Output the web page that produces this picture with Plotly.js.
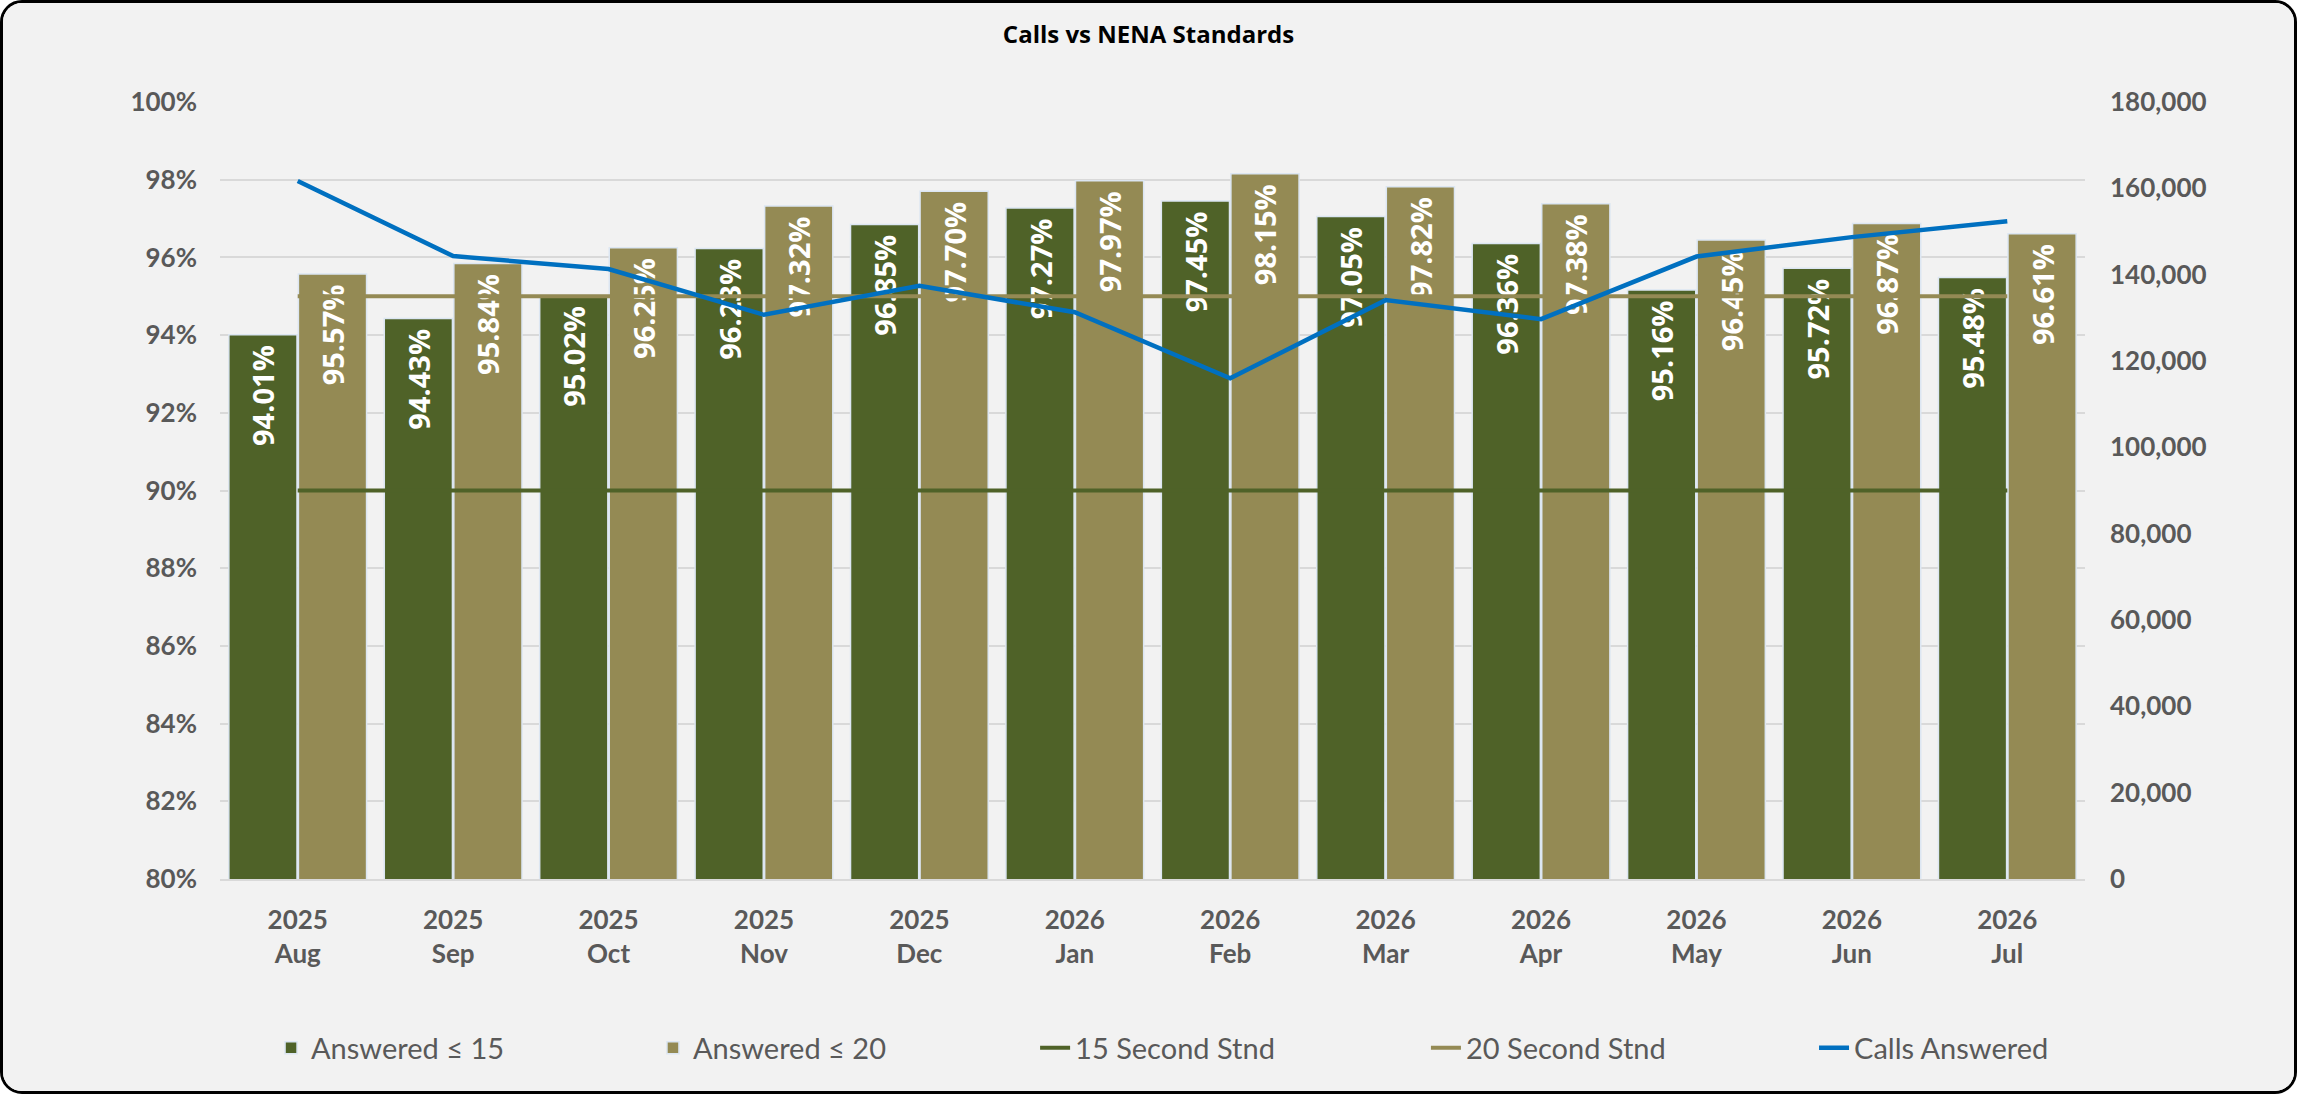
<!DOCTYPE html>
<html>
<head>
<meta charset="utf-8">
<script src="https://cdn.plot.ly/plotly-3.0.1.min.js"></script>
<style>
  body { margin: 0; background: #ffffff; }
  #wrap {
    width: 2297px; height: 1094px; box-sizing: border-box;
    border: 3px solid #000; border-radius: 22px; overflow: hidden;
    background: #f2f2f2;
  }
  #myDiv { width: 2291px; height: 1088px; }
</style>
</head>
<body>
<div id="wrap"><div id="myDiv"></div></div>
<script>
var months = ['2025<br>Aug', '2025<br>Sep', '2025<br>Oct', '2025<br>Nov', '2025<br>Dec', '2026<br>Jan',
              '2026<br>Feb', '2026<br>Mar', '2026<br>Apr', '2026<br>May', '2026<br>Jun', '2026<br>Jul'];

// percent answered within 15 / 20 seconds
var answered15 = [94.01, 94.43, 95.02, 96.23, 96.85, 97.27, 97.45, 97.05, 96.36, 95.16, 95.72, 95.48];
var answered20 = [95.57, 95.84, 96.25, 97.32, 97.70, 97.97, 98.15, 97.82, 97.38, 96.45, 96.87, 96.61];

// NENA standards
var stnd15 = [90, 90, 90, 90, 90, 90, 90, 90, 90, 90, 90, 90];
var stnd20 = [95, 95, 95, 95, 95, 95, 95, 95, 95, 95, 95, 95];

// total calls answered (right axis)
var callsAnswered = [161700, 144300, 141300, 130700, 137400, 131300, 116000, 134100, 129700, 144200, 148700, 152400];

var labelFont = {family: 'Open Sans', size: 29, color: '#ffffff', weight: 'bold'};

var data = [
  {
    x: months, y: answered15, name: 'Answered ≤ 15', type: 'bar', legend: 'legend',
    marker: {color: '#4f6228', line: {color: '#dce6f2', width: 1.5}},
    texttemplate: '%{y:.2f}%\u00a0', textposition: 'inside', insidetextanchor: 'end',
    textangle: -90, textfont: labelFont, insidetextfont: labelFont,
    hoverinfo: 'x+y'
  },
  {
    x: months, y: answered20, name: 'Answered ≤ 20', type: 'bar', legend: 'legend2',
    marker: {color: '#948a54', line: {color: '#dce6f2', width: 1.5}},
    texttemplate: '%{y:.2f}%\u00a0', textposition: 'inside', insidetextanchor: 'end',
    textangle: -90, textfont: labelFont, insidetextfont: labelFont,
    hoverinfo: 'x+y'
  },
  {
    x: months, y: stnd15, name: '15 Second Stnd', type: 'scatter', mode: 'lines', legend: 'legend3',
    line: {color: '#4f6228', width: 4}
  },
  {
    x: months, y: stnd20, name: '20 Second Stnd', type: 'scatter', mode: 'lines', legend: 'legend4',
    line: {color: '#948a54', width: 4}
  },
  {
    x: months, y: callsAnswered, name: 'Calls Answered', type: 'scatter', mode: 'lines', legend: 'legend5',
    yaxis: 'y2', line: {color: '#0070c0', width: 4.5}
  }
];

var tickFont = {family: 'Lato', size: 26, color: '#595959', weight: 'bold'};

// one legend per entry so the entries can sit where the original puts them
function legendAt(x) {
  return {
    orientation: 'h', xref: 'container', yref: 'container',
    x: x, y: 0.0395, xanchor: 'left', yanchor: 'middle',
    font: {family: 'Lato', size: 29, color: '#595959'},
    bgcolor: 'rgba(0,0,0,0)'
  };
}

var layout = {
  width: 2291, height: 1088,
  paper_bgcolor: '#f2f2f2', plot_bgcolor: '#f2f2f2',
  margin: {l: 217, r: 209, t: 99, b: 212},
  title: {
    text: 'Calls vs NENA Standards', xref: 'container', yref: 'container',
    x: 0.5, y: 0.9706, xanchor: 'center', yanchor: 'middle',
    font: {family: 'Open Sans', size: 24, color: '#000000', weight: 'bold'}
  },
  barmode: 'group', bargap: 0.105, bargroupgap: 0.02,
  showlegend: true,
  legend: legendAt(0.1170),
  legend2: legendAt(0.2837),
  legend3: legendAt(0.4505),
  legend4: legendAt(0.6211),
  legend5: legendAt(0.7905),
  xaxis: {
    type: 'category', tickfont: tickFont, ticks: '',
    showgrid: false, showline: true, linecolor: '#d9d9d9', linewidth: 2,
    ticklabelstandoff: 17
  },
  yaxis: {
    range: [80, 100], dtick: 2, ticksuffix: '%', tickfont: tickFont,
    showgrid: true, gridcolor: '#d9d9d9', gridwidth: 2, zeroline: false,
    ticks: '', ticklabelstandoff: 22
  },
  yaxis2: {
    overlaying: 'y', side: 'right', range: [0, 180000], dtick: 20000,
    tickformat: ',d', tickfont: tickFont, showgrid: false, zeroline: false,
    ticks: '', ticklabelstandoff: 24
  }
};

Plotly.newPlot('myDiv', data, layout, {displayModeBar: false});
</script>
</body>
</html>
